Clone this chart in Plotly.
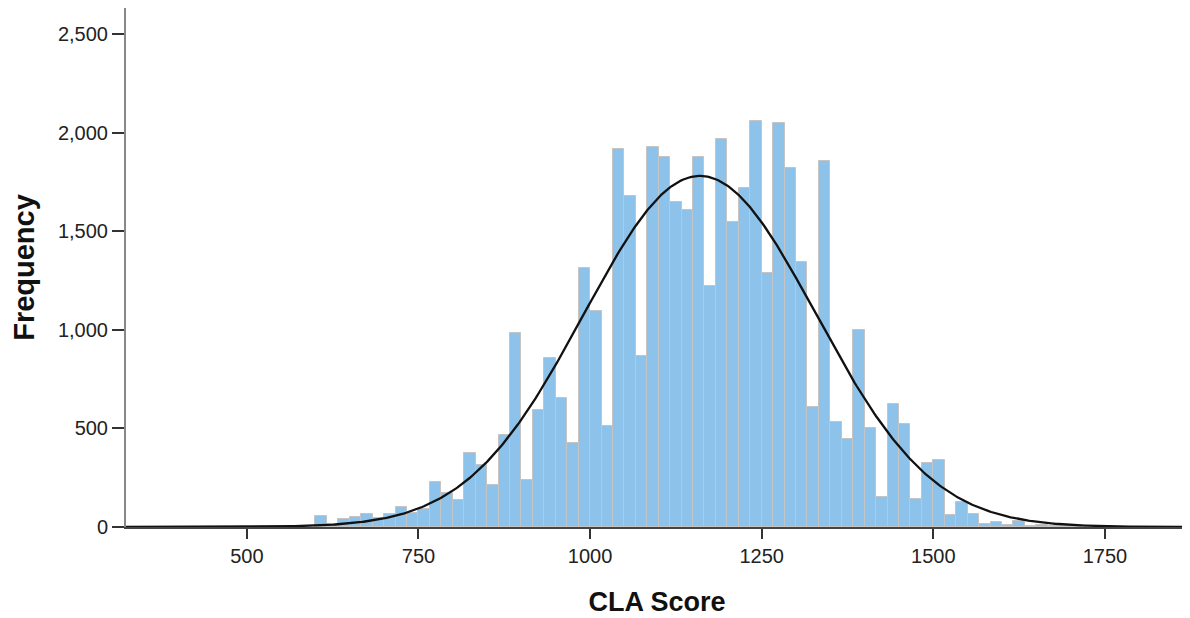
import numpy as np
import plotly.graph_objects as go

# Histogram bins (SPSS-style): left edges start at 600, bin width 250/15
bin_start = 600.0
bin_width = 250.0 / 15.0
counts = [57, 15, 41, 51, 68, 45, 68, 103, 69, 90,
          230, 171, 137, 374, 315, 213, 467, 983, 238, 594,
          859, 656, 428, 1312, 1097, 512, 1919, 1679, 867, 1929,
          1879, 1649, 1608, 1875, 1223, 1970, 1549, 1718, 2061, 1287,
          2051, 1820, 1343, 610, 1857, 534, 446, 999, 504, 154,
          624, 523, 142, 323, 340, 61, 128, 66, 15, 25,
          10, 30, 5, 8, 3, 3, 3]

# Fitted normal curve parameters
curve_mean = 1160.0
curve_sd = 169.0
curve_peak = 1781.0

x_ticks = [500, 750, 1000, 1250, 1500, 1750]
y_ticks = [0, 500, 1000, 1500, 2000, 2500]
y_tick_labels = ["0", "500", "1,000", "1,500", "2,000", "2,500"]
x_range = [324, 1871]
y_range = [0, 2633]

centers = [bin_start + bin_width * (i + 0.5) for i in range(len(counts))]

xs = np.linspace(x_range[0], x_range[1], 600)
ys = curve_peak * np.exp(-0.5 * ((xs - curve_mean) / curve_sd) ** 2)

fig = go.Figure()
fig.add_trace(go.Bar(
    x=centers, y=counts, width=bin_width,
    marker=dict(color="#8DC3EA", line=dict(color="#C4C4C4", width=1)),
    hoverinfo="x+y",
))
fig.add_trace(go.Scatter(
    x=xs, y=ys, mode="lines",
    line=dict(color="#111111", width=2.3),
    hoverinfo="skip",
))

font_family = "Arial, Liberation Sans, sans-serif"
fig.update_layout(
    width=1182, height=610,
    margin=dict(l=118, r=2, t=0, b=91, autoexpand=False),
    paper_bgcolor="white", plot_bgcolor="white",
    showlegend=False, bargap=0,
    font=dict(family=font_family, color="#222222"),
)
fig.update_xaxes(
    range=x_range, tickvals=x_ticks, ticktext=[str(v) for v in x_ticks],
    showgrid=False, zeroline=False,
    showline=True, linecolor="#444444", linewidth=2,
    ticks="outside", ticklen=10, tickwidth=2, tickcolor="#333333",
    tickfont=dict(size=20, family=font_family, color="#222222"),
    title=dict(text="<b>CLA Score</b>", font=dict(size=27, family=font_family, color="#111111"), standoff=26),
    automargin=False,
)
fig.update_yaxes(
    range=y_range, tickvals=y_ticks, ticktext=y_tick_labels,
    showgrid=False, zeroline=False,
    showline=True, linecolor="#888888", linewidth=2,
    ticks="outside", ticklen=12, tickwidth=2, tickcolor="#333333",
    tickfont=dict(size=20, family=font_family, color="#222222"),
    title=dict(text="<b>Frequency</b>", font=dict(size=29, family=font_family, color="#111111"), standoff=16),
    automargin=False,
)

fig.write_html("out.html")
